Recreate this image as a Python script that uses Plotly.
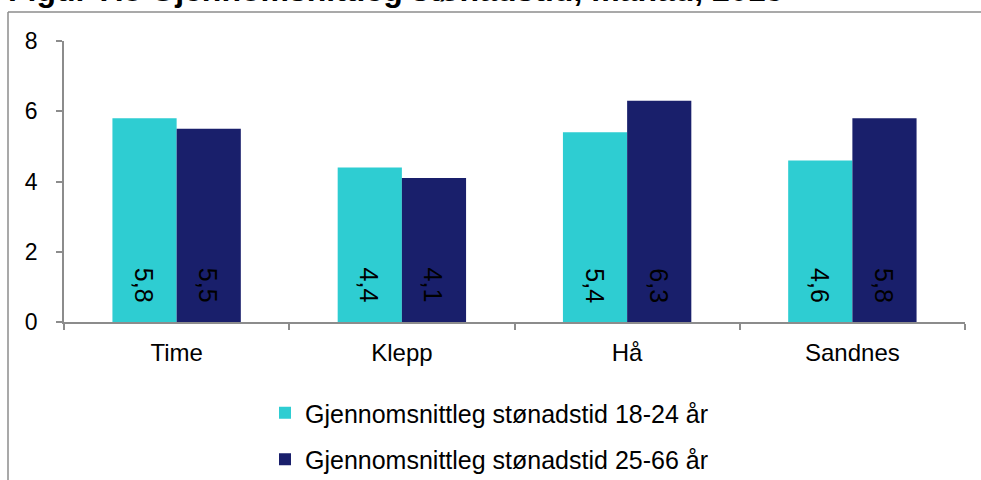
import plotly.graph_objects as go

categories = ["Time", "Klepp", "Hå", "Sandnes"]
series_names = ["Gjennomsnittleg stønadstid 18-24 år", "Gjennomsnittleg stønadstid 25-66 år"]
values_18_24 = [5.8, 4.4, 5.4, 4.6]
values_25_66 = [5.5, 4.1, 6.3, 5.8]
y_ticks = [0, 2, 4, 6, 8]
title_text = "Figur 7.8 Gjennomsnittleg stønadstid, månad, 2015"

colors = ["#2ECDD2", "#191F6B"]
FONT = "Liberation Sans, Arial, sans-serif"
GRAY = "#8C8C8C"

W, H = 981, 480
ML, MR, MT, MB = 64, 16, 41, 158
PW, PH = W - ML - MR, H - MT - MB


def px_x(px):
    return (px - ML) / PW


def px_y(py):
    return (H - MB - py) / PH


fig = go.Figure()
for i, (name, vals) in enumerate(zip(series_names, [values_18_24, values_25_66])):
    fig.add_trace(go.Bar(
        x=categories, y=vals, name=name,
        marker=dict(color=colors[i], line=dict(width=0)),
        legendgroup=f"g{i}",
    ))

# value labels, rotated, near bar base
for i, vals in enumerate([values_18_24, values_25_66]):
    for c, v in zip(categories, vals):
        fig.add_annotation(
            x=c, y=0, xref="x", yref="y",
            text=f"{v:.1f}".replace(".", ","),
            textangle=90, showarrow=False,
            xanchor="center", yanchor="bottom",
            xshift=(-32 if i == 0 else 32), yshift=17,
            font=dict(family=FONT, size=25, color="black"),
        )

# clipped title
fig.add_annotation(
    x=px_x(6), y=1, xref="paper", yref="paper",
    xanchor="left", yanchor="bottom", yshift=31,
    text=title_text, showarrow=False,
    font=dict(family=FONT, size=32, color="black", weight="bold"),
)

# outer frame lines (left and top)
fig.add_shape(type="line", xref="paper", yref="paper",
              x0=px_x(8), x1=px_x(8), y0=px_y(12), y1=px_y(482),
              line=dict(color=GRAY, width=1.5))
fig.add_shape(type="line", xref="paper", yref="paper",
              x0=px_x(8), x1=px_x(983), y0=px_y(12), y1=px_y(12),
              line=dict(color=GRAY, width=1.5))

fig.update_layout(
    width=W, height=H,
    margin=dict(l=ML, r=MR, t=MT, b=MB, autoexpand=False),
    paper_bgcolor="white", plot_bgcolor="white",
    barmode="group", bargap=0.43, bargroupgap=0,
    font=dict(family=FONT, size=24, color="black"),
    showlegend=True,
    legend=dict(
        x=px_x(265), y=px_y(390), xanchor="left", yanchor="top",
        orientation="v", traceorder="grouped", tracegroupgap=11,
        font=dict(family=FONT, size=25, color="black"),
        bgcolor="rgba(0,0,0,0)",
    ),
)
fig.update_xaxes(
    showline=True, linecolor=GRAY, linewidth=1.5,
    ticks="outside", tickson="boundaries", ticklen=6, tickcolor=GRAY, tickwidth=1.5,
    ticklabelstandoff=8, showgrid=False,
    tickfont=dict(family=FONT, size=24),
)
fig.update_yaxes(
    range=[0, 8], tickvals=y_ticks, ticktext=[str(t) for t in y_ticks],
    showline=True, linecolor=GRAY, linewidth=1.5,
    ticks="outside", ticklen=6, tickcolor=GRAY, tickwidth=1.5,
    ticklabelstandoff=14, showgrid=False, zeroline=False,
    tickfont=dict(family=FONT, size=23),
)

fig.write_html(
    "out.html",
    config={"displayModeBar": False},
    post_script="document.body.style.margin='0';document.body.style.overflow='hidden';",
)
